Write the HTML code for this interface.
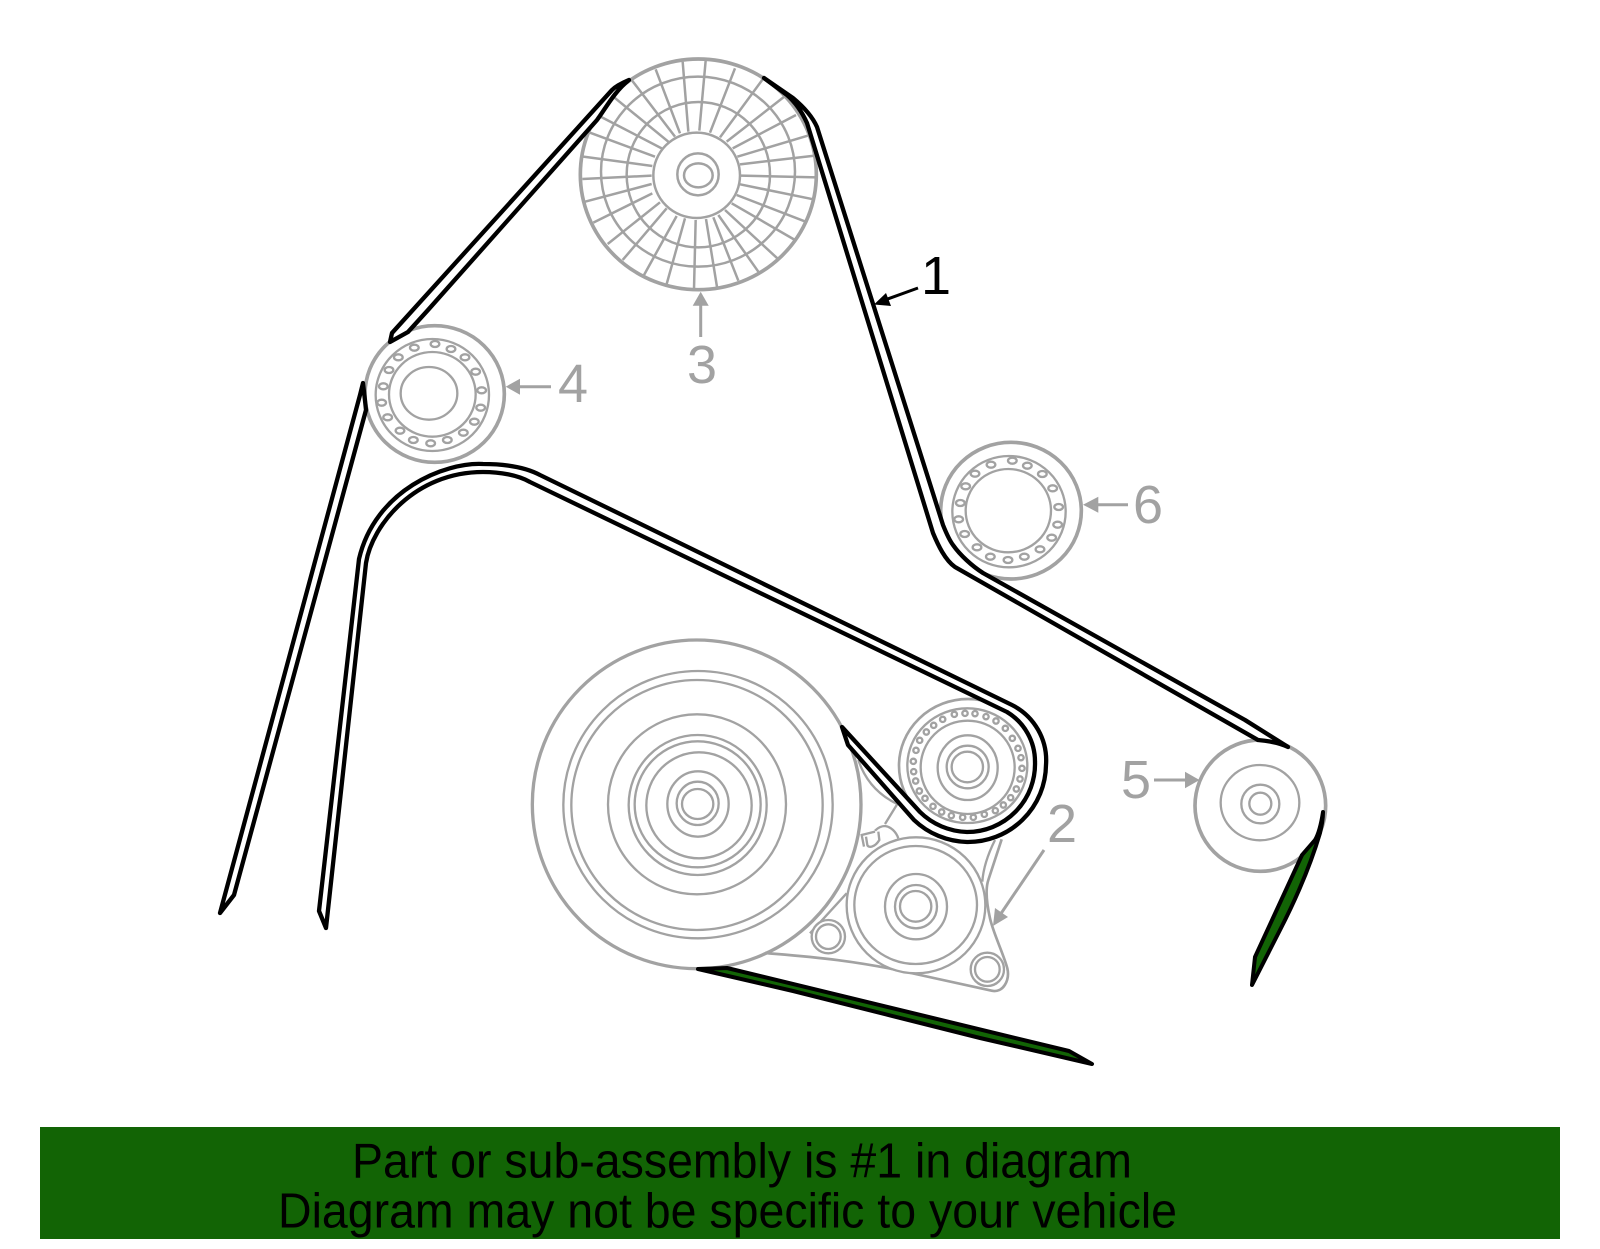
<!DOCTYPE html>
<html>
<head>
<meta charset="utf-8">
<style>
html,body{margin:0;padding:0;background:#fff;width:1600px;height:1249px;overflow:hidden}
svg{display:block}
text{font-family:"Liberation Sans",sans-serif}
</style>
</head>
<body>
<svg xmlns="http://www.w3.org/2000/svg" width="1600" height="1249" viewBox="0 0 1600 1249">
<rect width="1600" height="1249" fill="#fff"/>

<!-- Fan pulley 3 -->
<g transform="translate(540 40) scale(.33333)" fill="none" stroke="#a2a2a2" stroke-width="7.5">
<ellipse cx="475" cy="403" rx="354" ry="346" stroke-width="11"/>
<ellipse cx="474" cy="395" rx="291" ry="285"/>
<ellipse cx="475" cy="404" rx="215" ry="218"/>
<ellipse cx="470" cy="406" rx="130" ry="128"/>
<ellipse cx="474" cy="403" rx="62" ry="63"/>
<ellipse cx="475" cy="406" rx="43" ry="36"/>
<path d="M445,275L428,65M478,272L497,62M510,278L585,85M540,292L668,118M560,305L733,170M578,325L768,225M592,350L803,287M600,373L825,347M603,407L830,412M600,433L820,478M590,465L797,545M575,490L765,600M555,510L712,655M535,525L655,695M520,532L595,722M498,537L532,747M467,540L462,748M435,535L380,732M410,528L312,705M380,505L248,660M360,487L203,612M337,460L160,548M335,432L135,485M335,407L127,417M337,378L130,350M345,350L150,278M365,325L178,228M385,305L220,170M405,290L275,120M420,280L347,88"/>
</g>

<!-- Pulley 4 -->
<g transform="translate(340 310) scale(.33333)" fill="none" stroke="#a2a2a2" stroke-width="7">
<ellipse cx="284" cy="252" rx="209" ry="205" stroke-width="11"/>
<ellipse cx="277" cy="255" rx="170" ry="168"/>
<ellipse cx="277" cy="253" rx="130" ry="127"/>
<ellipse cx="267" cy="250" rx="85" ry="79"/>
<g>
<ellipse cx="285" cy="102" rx="13" ry="9"/><ellipse cx="333" cy="117" rx="13" ry="9"/><ellipse cx="375" cy="142" rx="13" ry="9"/><ellipse cx="407" cy="185" rx="13" ry="9"/><ellipse cx="425" cy="241" rx="13" ry="9"/><ellipse cx="422" cy="293" rx="13" ry="9"/><ellipse cx="403" cy="335" rx="13" ry="9"/><ellipse cx="370" cy="368" rx="13" ry="9"/><ellipse cx="322" cy="390" rx="13" ry="9"/><ellipse cx="272" cy="400" rx="13" ry="9"/><ellipse cx="220" cy="390" rx="13" ry="9"/><ellipse cx="180" cy="362" rx="13" ry="9"/><ellipse cx="143" cy="322" rx="13" ry="9"/><ellipse cx="125" cy="278" rx="13" ry="9"/><ellipse cx="130" cy="229" rx="13" ry="9"/><ellipse cx="147" cy="180" rx="13" ry="9"/><ellipse cx="175" cy="142" rx="13" ry="9"/><ellipse cx="223" cy="113" rx="13" ry="9"/>
</g>
</g>

<!-- Pulley 6 -->
<g transform="translate(920 430) scale(.33333)" fill="none" stroke="#a2a2a2" stroke-width="7">
<ellipse cx="273" cy="242" rx="211" ry="205" stroke-width="11"/>
<ellipse cx="267" cy="245" rx="170" ry="167"/>
<ellipse cx="265" cy="242" rx="128" ry="125"/>
<ellipse cx="277" cy="92" rx="13" ry="9"/><ellipse cx="322" cy="107" rx="13" ry="9"/><ellipse cx="367" cy="132" rx="13" ry="9"/><ellipse cx="398" cy="175" rx="13" ry="9"/><ellipse cx="416" cy="231" rx="13" ry="9"/><ellipse cx="413" cy="284" rx="13" ry="9"/><ellipse cx="395" cy="323" rx="13" ry="9"/><ellipse cx="360" cy="358" rx="13" ry="9"/><ellipse cx="313" cy="380" rx="13" ry="9"/><ellipse cx="264" cy="390" rx="13" ry="9"/><ellipse cx="211" cy="380" rx="13" ry="9"/><ellipse cx="171" cy="352" rx="13" ry="9"/><ellipse cx="134" cy="312" rx="13" ry="9"/><ellipse cx="116" cy="268" rx="13" ry="9"/><ellipse cx="121" cy="219" rx="13" ry="9"/><ellipse cx="137" cy="169" rx="13" ry="9"/><ellipse cx="165" cy="131" rx="13" ry="9"/><ellipse cx="213" cy="104" rx="13" ry="9"/>
</g>

<!-- Pulley 5 -->
<g transform="translate(1110 720) scale(.33333)" fill="none" stroke="#a2a2a2" stroke-width="7">
<ellipse cx="451" cy="257" rx="196" ry="197" stroke-width="11"/>
<ellipse cx="450" cy="248" rx="118" ry="113"/>
<ellipse cx="451" cy="252" rx="57" ry="58"/>
<ellipse cx="451" cy="251" rx="33" ry="33"/>
</g>

<!-- Crank pulley -->
<g transform="translate(520 630) scale(.33333)" fill="none" stroke="#a2a2a2" stroke-width="7">
<ellipse cx="530" cy="523" rx="493" ry="493" stroke-width="10"/>
<ellipse cx="534" cy="524" rx="404" ry="401"/>
<ellipse cx="531" cy="525" rx="377" ry="375"/>
<ellipse cx="531" cy="523" rx="267" ry="270"/>
<ellipse cx="533" cy="525" rx="207" ry="210"/>
<ellipse cx="533" cy="523" rx="189" ry="189"/>
<ellipse cx="537" cy="526" rx="158" ry="159"/>
<ellipse cx="534" cy="522" rx="92" ry="98"/>
<ellipse cx="533" cy="520" rx="63" ry="65"/>
<ellipse cx="533" cy="522" rx="47" ry="45"/>
</g>

<!-- Tensioner assembly -->
<g transform="translate(820 680) scale(.33333)" fill="none" stroke="#a2a2a2" stroke-width="7">
<path stroke-width="8" d="M-165,819C-60,828 100,838 300,885L515,932C550,940 570,900 562,865C550,820 520,760 510,715C500,670 495,630 505,600L545,478"/>
<path d="M525,480C505,520 490,560 487,605"/>
<path d="M115,240C135,300 175,345 232,372L195,432"/>
<path d="M165,452C175,442 185,438 195,438C212,440 228,455 235,475"/>
<path d="M132,500L125,465L165,455M138,470L142,495C145,505 165,502 178,480L175,455"/>
<path d="M-30,760L80,640"/>
<ellipse cx="444" cy="257" rx="207" ry="200" stroke-width="8"/>
<ellipse cx="442" cy="257" rx="180" ry="172"/>
<ellipse cx="443" cy="262" rx="141" ry="140"/>
<ellipse cx="443" cy="263" rx="90" ry="97"/>
<ellipse cx="443" cy="261" rx="63" ry="64"/>
<ellipse cx="442" cy="261" rx="47" ry="46"/>
<circle cx="403" cy="103" r="8"/><circle cx="435" cy="100" r="8"/><circle cx="465" cy="101" r="8"/><circle cx="498" cy="110" r="8"/><circle cx="528" cy="123" r="8"/><circle cx="556" cy="145" r="8"/><circle cx="577" cy="175" r="8"/><circle cx="594" cy="205" r="8"/><circle cx="603" cy="233" r="8"/><circle cx="606" cy="265" r="8"/><circle cx="600" cy="297" r="8"/><circle cx="589" cy="327" r="8"/><circle cx="572" cy="353" r="8"/><circle cx="550" cy="375" r="8"/><circle cx="526" cy="392" r="8"/><circle cx="493" cy="403" r="8"/><circle cx="460" cy="412" r="8"/><circle cx="428" cy="412" r="8"/><circle cx="394" cy="407" r="8"/><circle cx="365" cy="396" r="8"/><circle cx="339" cy="379" r="8"/><circle cx="315" cy="355" r="8"/><circle cx="298" cy="333" r="8"/><circle cx="287" cy="303" r="8"/><circle cx="281" cy="275" r="8"/><circle cx="280" cy="244" r="8"/><circle cx="288" cy="211" r="8"/><circle cx="299" cy="181" r="8"/><circle cx="319" cy="156" r="8"/><circle cx="341" cy="136" r="8"/><circle cx="368" cy="118" r="8"/>
<ellipse cx="288" cy="676" rx="208" ry="204" fill="#fff"/>
<ellipse cx="287" cy="675" rx="184" ry="177"/>
<ellipse cx="288" cy="680" rx="93" ry="98"/>
<ellipse cx="288" cy="680" rx="63" ry="65"/>
<ellipse cx="287" cy="679" rx="47" ry="46"/>
<circle cx="502" cy="868" r="50" fill="#fff"/><circle cx="502" cy="868" r="37"/>
<circle cx="25" cy="770" r="50" fill="#fff"/><circle cx="25" cy="770" r="37"/>
</g>

<!-- Belts -->
<g stroke="#000" stroke-width="4.3" stroke-linejoin="round" fill="#fff">
<path d="M629,80C622,83 616,86 612,90L392,333L390,342L408,332L428,310L597,120C606,108 614,92 629,80Z"/>
<path d="M363,383L360,395L220,913L234,895L366,410C365,400 364,392 363,383Z"/>
<path d="M842,727L848,745L914,820A80,80 0 0 0 967,842A78,78 0 0 0 1046,765A62,62 0 0 0 1012,705L540,475C525,467 505,464 483,464C445,462 375,490 359,559L319,911L326,928L366,563C372,525 415,472 483,472C500,472 518,475 530,482L1007,712A58,58 0 0 1 1035,762A68,68 0 0 1 967,832A70,70 0 0 1 920,812Z"/>
<path d="M764,78L793,98C805,108 813,118 817,127L943,525C947,535 950,541 953,545C960,555 972,566 983,573L1245,720L1288,747C1280,743 1270,741 1258,740L955,567C945,560 938,545 933,533L807,123C802,112 795,102 787,95Z"/>
</g>
<g stroke="#000" stroke-width="4" stroke-linejoin="round" fill="#126405">
<path d="M1323,812C1321,825 1318,835 1315,840L1302,855L1255,957L1252,985L1280,930C1298,895 1312,860 1320,833C1322,825 1323,818 1323,812Z"/>
<path d="M698,969L727,968L1069,1051L1092,1064L980,1038L793,991Z"/>
</g>

<!-- Arrows -->
<g fill="#a2a2a2" stroke="#a2a2a2" stroke-width="3">
<path d="M700.7,305V337" fill="none"/>
<path d="M700.7,291.7L692.7,305.7H708.7Z" stroke="none"/>
<path d="M520,386.7H551" fill="none"/>
<path d="M505.7,386.7L520,378.7V394.7Z" stroke="none"/>
<path d="M1098,504.7H1128" fill="none"/>
<path d="M1083,504.7L1098.3,496.7V512.7Z" stroke="none"/>
<path d="M1154,780H1186" fill="none"/>
<path d="M1199.5,780L1185,771.7V788.3Z" stroke="none"/>
<path d="M1044,850L1000,915" fill="none"/>
<path d="M993,926L995,908L1008,917Z" stroke="none"/>
</g>
<path d="M918,288L882,301" stroke="#000" stroke-width="3" fill="none"/>
<path d="M874,304.5L886,293L891,306Z" fill="#000"/>

<!-- Labels -->
<g font-size="54" fill="#a2a2a2">
<text x="687" y="383">3</text>
<text x="558" y="402">4</text>
<text x="1133" y="523">6</text>
<text x="1121" y="798">5</text>
<text x="1047" y="842">2</text>
</g>
<text x="921" y="294" font-size="54" fill="#000">1</text>

<!-- Banner -->
<rect x="40" y="1127" width="1520" height="112" fill="#126405"/>
<text x="352" y="1177.5" font-size="49" fill="#000" textLength="780" lengthAdjust="spacingAndGlyphs">Part or sub-assembly is #1 in diagram</text>
<text x="278" y="1227.5" font-size="49" fill="#000" textLength="899" lengthAdjust="spacingAndGlyphs">Diagram may not be specific to your vehicle</text>
</svg>
</body>
</html>
